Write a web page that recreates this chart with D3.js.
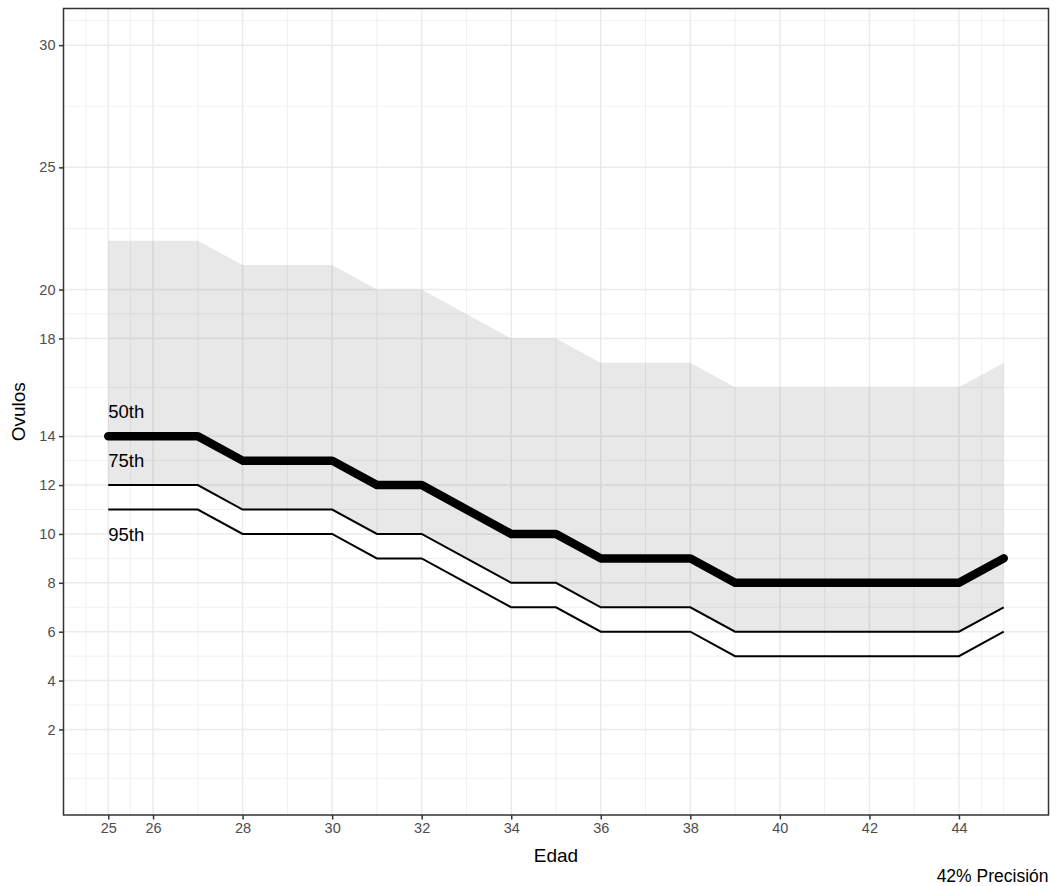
<!DOCTYPE html>
<html><head><meta charset="utf-8">
<script src="https://cdn.jsdelivr.net/npm/d3@7"></script>
<style>body{margin:0;background:#fff}svg{display:block}text{font-family:"Liberation Sans",Arial,sans-serif}</style>
</head><body><svg id="c" width="1056" height="886"></svg>
<script>
const edad = [25,26,27,28,29,30,31,32,33,34,35,36,37,38,39,40,41,42,43,44,45];
const upper = [22,22,22,21,21,21,20,20,19,18,18,17,17,17,16,16,16,16,16,16,17];
const p50 = [14,14,14,13,13,13,12,12,11,10,10,9,9,9,8,8,8,8,8,8,9];
const p75 = [12,12,12,11,11,11,10,10,9,8,8,7,7,7,6,6,6,6,6,6,7];
const p95 = [11,11,11,10,10,10,9,9,8,7,7,6,6,6,5,5,5,5,5,5,6];
const xTicks = [25,26,28,30,32,34,36,38,40,42,44];
const yTicks = [2,4,6,8,10,12,14,18,20,25,30];
const labels = [{t:"50th",y:15},{t:"75th",y:13},{t:"95th",y:10}];
const xTitle = "Edad", yTitle = "Ovulos", caption = "42% Precisión";

const svg = d3.select("#c");
const L = 63.5, R = 1048.5, T = 8.5, B = 815;
const x = d3.scaleLinear().domain([24,46]).range([L,R]);
const y = d3.scaleLinear().domain([-1.5,31.5]).range([B,T]);

function minorBreaks(b, lim){
  b = b.slice(); const bd = b[1]-b[0];
  if (lim[0] < b[0]) b.unshift(b[0]-bd);
  if (lim[1] > b[b.length-1]) b.push(b[b.length-1]+bd);
  const out = [];
  for (let i=0;i<b.length-1;i++){ out.push(b[i]); out.push((b[i]+b[i+1])/2); }
  out.push(b[b.length-1]);
  return out;
}
const xMinor = minorBreaks(xTicks,[24,46]).filter(v=>!xTicks.includes(v) && v>=24 && v<=46);
const yMinor = minorBreaks(yTicks,[-1.5,31.5]).filter(v=>!yTicks.includes(v) && v>=-1.5 && v<=31.5);

const g = svg.append("g");
const grid = g.append("g").attr("stroke","#ebebeb");
grid.selectAll(".xm").data(xMinor).join("line").attr("x1",d=>x(d)).attr("x2",d=>x(d)).attr("y1",T).attr("y2",B).attr("stroke-width",0.75);
grid.selectAll(".ym").data(yMinor).join("line").attr("y1",d=>y(d)).attr("y2",d=>y(d)).attr("x1",L).attr("x2",R).attr("stroke-width",0.75);
grid.selectAll(".xM").data(xTicks).join("line").attr("x1",d=>x(d)).attr("x2",d=>x(d)).attr("y1",T).attr("y2",B).attr("stroke-width",1.5);
grid.selectAll(".yM").data(yTicks).join("line").attr("y1",d=>y(d)).attr("y2",d=>y(d)).attr("x1",L).attr("x2",R).attr("stroke-width",1.5);

const rows = edad.map((e,i)=>({e,u:upper[i],m:p50[i],a:p75[i],b:p95[i]}));
g.append("path").datum(rows)
 .attr("d", d3.area().x(d=>x(d.e)).y0(d=>y(d.a)).y1(d=>y(d.u)))
 .attr("fill","#000").attr("fill-opacity",0.09);

const line = key => d3.line().x(d=>x(d.e)).y(d=>y(d[key]));
g.append("path").datum(rows).attr("d",line("b")).attr("fill","none").attr("stroke","#000").attr("stroke-width",2);
g.append("path").datum(rows).attr("d",line("a")).attr("fill","none").attr("stroke","#000").attr("stroke-width",2);
g.append("path").datum(rows).attr("d",line("m")).attr("fill","none").attr("stroke","#000").attr("stroke-width",8.5).attr("stroke-linecap","round").attr("stroke-linejoin","round");

g.selectAll(".lab").data(labels).join("text").attr("x",x(25)).attr("y",d=>y(d.y)).attr("dy","0.36em")
 .attr("font-size",18.5).attr("fill","#000").text(d=>d.t);

g.append("rect").attr("x",L).attr("y",T).attr("width",R-L).attr("height",B-T).attr("fill","none").attr("stroke","#333").attr("stroke-width",1.5);

const xa = svg.append("g").attr("transform",`translate(0,${B})`)
 .call(d3.axisBottom(x).tickValues(xTicks).tickSize(4.5).tickPadding(3.5).tickFormat(d3.format("d")));
const ya = svg.append("g").attr("transform",`translate(${L},0)`)
 .call(d3.axisLeft(y).tickValues(yTicks).tickSize(4.5).tickPadding(3.5).tickFormat(d3.format("d")));
[xa,ya].forEach(a=>{
  a.select(".domain").remove();
  a.selectAll(".tick line").attr("stroke","#333").attr("stroke-width",1.5);
  a.selectAll(".tick text").attr("fill","#4d4d4d").attr("font-size",14.5).attr("font-family",'"Liberation Sans",Arial,sans-serif');
});

svg.append("text").attr("x",(L+R)/2).attr("y",862).attr("text-anchor","middle").attr("font-size",19).text(xTitle);
svg.append("text").attr("transform",`translate(25,${(T+B)/2}) rotate(-90)`).attr("text-anchor","middle").attr("font-size",19).text(yTitle);
svg.append("text").attr("x",R).attr("y",882).attr("text-anchor","end").attr("font-size",17.5).text(caption);
</script></body></html>
